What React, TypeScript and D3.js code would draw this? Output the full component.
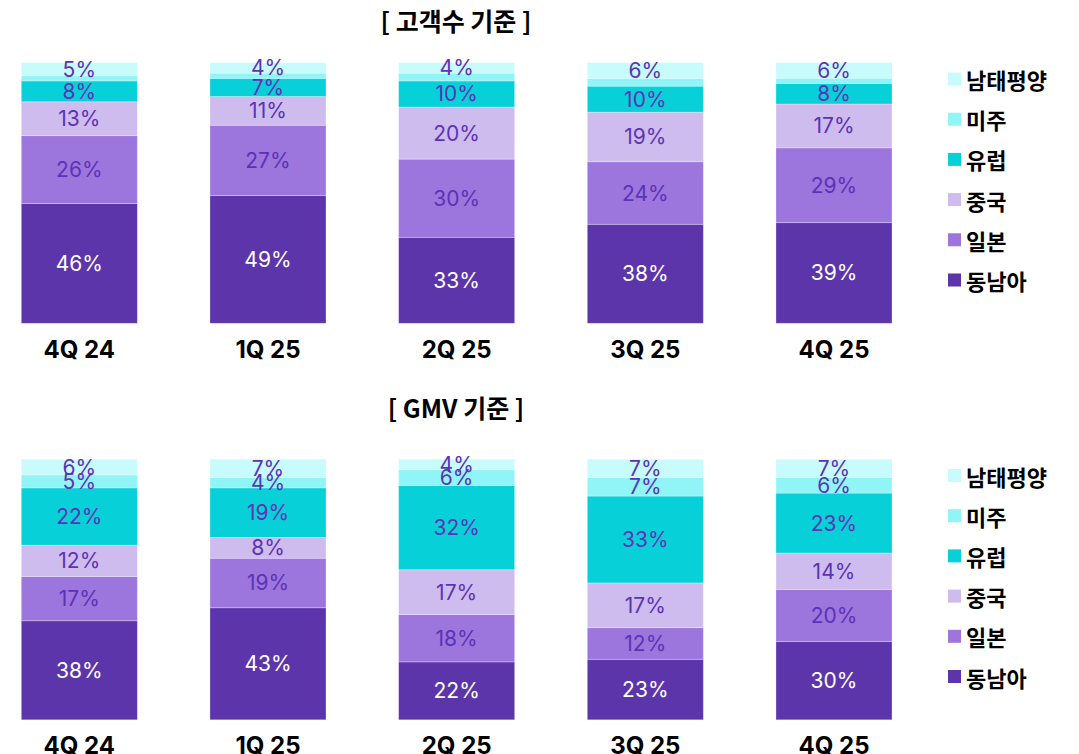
import React from "react";
import * as d3 from "d3";

const categories = ["4Q 24", "1Q 25", "2Q 25", "3Q 25", "4Q 25"];
const seriesNames = ["동남아", "일본", "중국", "유럽", "미주", "남태평양"];
const legendOrder = ["남태평양", "미주", "유럽", "중국", "일본", "동남아"];
const colors: Record<string, string> = {
  동남아: "#5c35ab",
  일본: "#9c76dd",
  중국: "#cfbcef",
  유럽: "#08d0d8",
  미주: "#91f5f8",
  남태평양: "#c8fbfc",
};

// 고객수 기준 (bottom → top order per category)
const custSEA = [46, 49, 33, 38, 39];
const custJapan = [26, 27, 30, 24, 29];
const custChina = [13, 11, 20, 19, 17];
const custEurope = [8, 7, 10, 10, 8];
const custAmerica = [2, 2, 3, 3, 2];
const custPacific = [5, 4, 4, 6, 6];

// GMV 기준
const gmvSEA = [38, 43, 22, 23, 30];
const gmvJapan = [17, 19, 18, 12, 20];
const gmvChina = [12, 8, 17, 17, 14];
const gmvEurope = [22, 19, 32, 33, 23];
const gmvAmerica = [5, 4, 6, 7, 6];
const gmvPacific = [6, 7, 4, 7, 7];

const titles = ["[ 고객수 기준 ]", "[ GMV 기준 ]"];

const W = 1079;
const H = 754;
const KFONT = "'Noto Sans CJK KR', 'Noto Sans', sans-serif";
const NFONT = "Inter, 'Noto Sans', sans-serif";

type Row = Record<string, number | string>;

function buildRows(cols: number[][]): Row[] {
  return categories.map((c, i) => {
    const r: Row = { cat: c };
    seriesNames.forEach((s, j) => (r[s] = cols[j][i]));
    return r;
  });
}

const datasets = [
  buildRows([custSEA, custJapan, custChina, custEurope, custAmerica, custPacific]),
  buildRows([gmvSEA, gmvJapan, gmvChina, gmvEurope, gmvAmerica, gmvPacific]),
];

function Panel({
  rows,
  title,
  offsetY,
  titleY,
}: {
  rows: Row[];
  title: string;
  offsetY: number;
  titleY: number;
}) {
  const x = d3
    .scaleBand<string>()
    .domain(categories)
    .range([21.3, 892])
    .paddingInner(0.385)
    .paddingOuter(0);
  const y = d3.scaleLinear().domain([0, 1]).range([323.3, 62.7]);
  const stack = d3
    .stack<Row>()
    .keys(seriesNames)
    .value((d, k) => d[k] as number)
    .offset(d3.stackOffsetExpand);
  const layers = stack(rows);
  const legendY = d3.scalePoint<string>().domain(legendOrder).range([79, 280]);

  return (
    <g transform={`translate(0,${offsetY})`}>
      <text
        x={456}
        y={titleY}
        textAnchor="middle"
        dominantBaseline="central"
        fontFamily={KFONT}
        fontWeight={700}
        fontSize={25}
        fill="#000"
      >
        {title}
      </text>
      {layers.map((layer) => (
        <g key={layer.key}>
          {layer.map((seg, i) => {
            const cat = categories[i];
            const x0 = x(cat)!;
            const y0 = y(seg[1]);
            const y1 = y(seg[0]);
            return (
              <rect
                key={cat}
                x={x0}
                y={y0}
                width={x.bandwidth()}
                height={y1 - y0}
                fill={colors[layer.key]}
                stroke="#ffffff"
                strokeOpacity={0.35}
                strokeWidth={0.8}
              />
            );
          })}
        </g>
      ))}
      {layers.map((layer) => (
        <g key={"l" + layer.key}>
          {layer.map((seg, i) => {
            const cat = categories[i];
            const val = rows[i][layer.key] as number;
            if (val < 4) return null;
            const cy = (y(seg[1]) + y(seg[0])) / 2;
            return (
              <text
                key={cat}
                x={x(cat)! + x.bandwidth() / 2}
                y={cy}
                textAnchor="middle"
                dominantBaseline="central"
                fontFamily={NFONT}
                fontSize={21}
                fill={layer.key === "동남아" ? "#ffffff" : "#5b33b6"}
              >
                {val}%
              </text>
            );
          })}
        </g>
      ))}
      {categories.map((c) => (
        <text
          key={c}
          x={x(c)! + x.bandwidth() / 2}
          y={349}
          textAnchor="middle"
          dominantBaseline="central"
          fontFamily={NFONT}
          fontWeight={700}
          fontSize={24}
          fill="#000"
        >
          {c}
        </text>
      ))}
      {legendOrder.map((s) => (
        <g key={s} transform={`translate(948,${legendY(s)})`}>
          <rect x={0} y={-6.5} width={13} height={13} fill={colors[s]} />
          <text
            x={18}
            y={0}
            dominantBaseline="central"
            fontFamily={KFONT}
            fontWeight={700}
            fontSize={22}
            fill="#000"
          >
            {s}
          </text>
        </g>
      ))}
    </g>
  );
}

export default function App() {
  return (
    <svg
      width={W}
      height={H}
      viewBox={`0 0 ${W} ${H}`}
      style={{ position: "absolute", left: 0, top: 0, background: "#fff" }}
    >
      <rect width={W} height={H} fill="#fff" />
      <Panel rows={datasets[0]} title={titles[0]} offsetY={0} titleY={20} />
      <Panel rows={datasets[1]} title={titles[1]} offsetY={396.5} titleY={10.5} />
    </svg>
  );
}
